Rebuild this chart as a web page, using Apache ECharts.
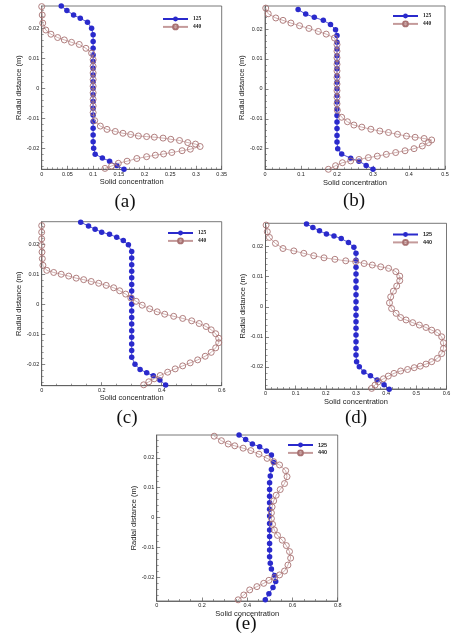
<!DOCTYPE html>
<html><head><meta charset="utf-8">
<script src="https://cdn.jsdelivr.net/npm/echarts@6/dist/echarts.min.js"></script>
<style>html,body{margin:0;padding:0;background:#fff}#c{width:458px;height:640px}</style>
</head><body><div id="c"></div>
<script>
// ---------- data ----------
const seriesNames = ['125', '440'];
const panelLabels = ['(a)', '(b)', '(c)', '(d)', '(e)'];
const xTicksA = [0, 0.05, 0.1, 0.15, 0.2, 0.25, 0.3, 0.35];
const xTicksB = [0, 0.1, 0.2, 0.3, 0.4, 0.5];
const xTicksC = [0, 0.2, 0.4, 0.6];
const xTicksD = [0, 0.1, 0.2, 0.3, 0.4, 0.5, 0.6];
const xTicksE = [0, 0.2, 0.4, 0.6, 0.8];
const yTicks = [-0.02, -0.01, 0, 0.01, 0.02];

const a125 = [[0.038,0.0274],[0.049,0.0259],[0.062,0.0244],[0.075,0.0233],[0.089,0.0220],[0.097,0.0200],[0.100,0.0178],[0.100,0.0156],[0.100,0.0133],[0.100,0.0111],[0.100,0.0089],[0.100,0.0067],[0.100,0.0044],[0.100,0.0022],[0.100,0.0000],[0.100,-0.0022],[0.100,-0.0044],[0.100,-0.0067],[0.100,-0.0089],[0.100,-0.0111],[0.100,-0.0133],[0.100,-0.0156],[0.100,-0.0178],[0.101,-0.0200],[0.104,-0.0220],[0.118,-0.0232],[0.132,-0.0243],[0.146,-0.0257],[0.160,-0.0270]];
const a440 = [[0.000,0.0272],[0.001,0.0244],[0.002,0.0217],[0.008,0.0194],[0.018,0.0180],[0.031,0.0169],[0.044,0.0161],[0.058,0.0153],[0.073,0.0146],[0.086,0.0133],[0.097,0.0117],[0.100,0.0095],[0.100,0.0073],[0.100,0.0051],[0.100,0.0029],[0.100,0.0007],[0.100,-0.0015],[0.100,-0.0037],[0.100,-0.0059],[0.100,-0.0081],[0.103,-0.0108],[0.114,-0.0126],[0.127,-0.0137],[0.143,-0.0144],[0.158,-0.0150],[0.173,-0.0154],[0.188,-0.0159],[0.204,-0.0161],[0.219,-0.0163],[0.236,-0.0166],[0.251,-0.0170],[0.268,-0.0174],[0.284,-0.0181],[0.299,-0.0186],[0.308,-0.0194],[0.289,-0.0203],[0.273,-0.0208],[0.253,-0.0214],[0.237,-0.0219],[0.221,-0.0223],[0.204,-0.0228],[0.185,-0.0234],[0.166,-0.0243],[0.149,-0.0250],[0.136,-0.0259],[0.123,-0.0267]];

const b125 = [[0.092,0.0265],[0.113,0.0250],[0.137,0.0239],[0.162,0.0229],[0.182,0.0215],[0.196,0.0198],[0.200,0.0178],[0.200,0.0156],[0.200,0.0133],[0.200,0.0111],[0.200,0.0089],[0.200,0.0067],[0.200,0.0044],[0.200,0.0022],[0.200,0.0000],[0.200,-0.0022],[0.200,-0.0044],[0.200,-0.0067],[0.200,-0.0089],[0.200,-0.0111],[0.200,-0.0133],[0.200,-0.0156],[0.200,-0.0178],[0.202,-0.0200],[0.213,-0.0218],[0.238,-0.0232],[0.261,-0.0242],[0.281,-0.0256],[0.300,-0.0269]];
const b440 = [[0.002,0.0270],[0.009,0.0251],[0.030,0.0237],[0.050,0.0229],[0.072,0.0220],[0.096,0.0211],[0.122,0.0202],[0.148,0.0192],[0.170,0.0183],[0.193,0.0170],[0.200,0.0148],[0.200,0.0126],[0.200,0.0104],[0.200,0.0082],[0.200,0.0060],[0.200,0.0038],[0.200,0.0016],[0.200,-0.0006],[0.200,-0.0028],[0.200,-0.0050],[0.201,-0.0072],[0.213,-0.0095],[0.229,-0.0110],[0.247,-0.0121],[0.269,-0.0128],[0.294,-0.0135],[0.319,-0.0141],[0.343,-0.0146],[0.368,-0.0152],[0.393,-0.0158],[0.417,-0.0162],[0.442,-0.0166],[0.463,-0.0171],[0.454,-0.0180],[0.437,-0.0191],[0.414,-0.0200],[0.389,-0.0207],[0.363,-0.0213],[0.337,-0.0219],[0.312,-0.0225],[0.287,-0.0230],[0.261,-0.0236],[0.238,-0.0241],[0.215,-0.0247],[0.196,-0.0257],[0.176,-0.0269]];

const c125 = [[0.130,0.0273],[0.156,0.0261],[0.178,0.0250],[0.200,0.0240],[0.226,0.0233],[0.250,0.0223],[0.272,0.0212],[0.289,0.0198],[0.300,0.0176],[0.300,0.0154],[0.300,0.0132],[0.300,0.0110],[0.300,0.0088],[0.300,0.0066],[0.300,0.0044],[0.300,0.0022],[0.300,0.0000],[0.300,-0.0022],[0.300,-0.0044],[0.300,-0.0066],[0.300,-0.0088],[0.300,-0.0110],[0.300,-0.0132],[0.300,-0.0154],[0.300,-0.0176],[0.311,-0.0200],[0.328,-0.0217],[0.350,-0.0228],[0.372,-0.0238],[0.394,-0.0252],[0.413,-0.0269]];
const c440 = [[0.000,0.0262],[0.000,0.0240],[0.000,0.0218],[0.000,0.0196],[0.001,0.0174],[0.002,0.0152],[0.004,0.0130],[0.017,0.0113],[0.040,0.0106],[0.065,0.0100],[0.090,0.0094],[0.115,0.0087],[0.140,0.0082],[0.165,0.0076],[0.190,0.0070],[0.215,0.0063],[0.240,0.0055],[0.260,0.0045],[0.280,0.0034],[0.297,0.0021],[0.315,0.0010],[0.335,-0.0003],[0.360,-0.0015],[0.385,-0.0025],[0.410,-0.0033],[0.440,-0.0040],[0.470,-0.0047],[0.500,-0.0055],[0.525,-0.0064],[0.548,-0.0074],[0.565,-0.0085],[0.580,-0.0098],[0.590,-0.0113],[0.590,-0.0128],[0.580,-0.0145],[0.565,-0.0160],[0.545,-0.0173],[0.520,-0.0185],[0.495,-0.0195],[0.470,-0.0205],[0.445,-0.0215],[0.420,-0.0226],[0.395,-0.0237],[0.375,-0.0248],[0.357,-0.0258],[0.340,-0.0268]];

const d125 = [[0.136,0.0276],[0.157,0.0264],[0.179,0.0253],[0.202,0.0242],[0.227,0.0236],[0.251,0.0227],[0.275,0.0214],[0.293,0.0198],[0.300,0.0178],[0.300,0.0155],[0.300,0.0132],[0.300,0.0109],[0.300,0.0086],[0.300,0.0063],[0.300,0.0040],[0.300,0.0017],[0.300,-0.0006],[0.300,-0.0028],[0.300,-0.0050],[0.300,-0.0072],[0.300,-0.0094],[0.300,-0.0117],[0.300,-0.0139],[0.300,-0.0161],[0.302,-0.0183],[0.311,-0.0200],[0.326,-0.0217],[0.348,-0.0230],[0.370,-0.0244],[0.393,-0.0260],[0.410,-0.0275]];
const d440 = [[0.002,0.0272],[0.006,0.0250],[0.013,0.0231],[0.033,0.0211],[0.058,0.0194],[0.094,0.0186],[0.127,0.0178],[0.160,0.0170],[0.194,0.0163],[0.230,0.0158],[0.266,0.0153],[0.299,0.0150],[0.327,0.0144],[0.354,0.0139],[0.382,0.0133],[0.408,0.0128],[0.432,0.0117],[0.445,0.0102],[0.445,0.0087],[0.435,0.0069],[0.424,0.0052],[0.415,0.0033],[0.411,0.0013],[0.418,-0.0006],[0.433,-0.0022],[0.448,-0.0036],[0.466,-0.0044],[0.488,-0.0053],[0.510,-0.0061],[0.532,-0.0069],[0.551,-0.0078],[0.570,-0.0086],[0.584,-0.0100],[0.590,-0.0120],[0.590,-0.0139],[0.584,-0.0156],[0.570,-0.0172],[0.551,-0.0183],[0.532,-0.0191],[0.513,-0.0198],[0.493,-0.0203],[0.471,-0.0209],[0.448,-0.0214],[0.426,-0.0222],[0.407,-0.0231],[0.391,-0.0240],[0.374,-0.0250],[0.363,-0.0261],[0.352,-0.0272]];

const e125 = [[0.364,0.0276],[0.393,0.0261],[0.423,0.0246],[0.455,0.0237],[0.485,0.0223],[0.507,0.0209],[0.517,0.0184],[0.507,0.0161],[0.502,0.0139],[0.499,0.0117],[0.499,0.0094],[0.499,0.0072],[0.499,0.0050],[0.499,0.0028],[0.499,0.0006],[0.499,-0.0019],[0.499,-0.0041],[0.499,-0.0063],[0.499,-0.0086],[0.499,-0.0108],[0.499,-0.0130],[0.502,-0.0152],[0.507,-0.0171],[0.521,-0.0193],[0.526,-0.0213],[0.514,-0.0233],[0.496,-0.0254],[0.480,-0.0274]];
const e440 = [[0.254,0.0272],[0.286,0.0257],[0.316,0.0246],[0.345,0.0240],[0.382,0.0232],[0.416,0.0224],[0.452,0.0212],[0.488,0.0198],[0.517,0.0187],[0.543,0.0176],[0.570,0.0157],[0.576,0.0137],[0.565,0.0114],[0.546,0.0094],[0.528,0.0075],[0.517,0.0056],[0.510,0.0036],[0.507,0.0016],[0.507,-0.0003],[0.512,-0.0022],[0.520,-0.0041],[0.534,-0.0059],[0.555,-0.0075],[0.573,-0.0093],[0.587,-0.0113],[0.592,-0.0135],[0.580,-0.0158],[0.565,-0.0178],[0.543,-0.0191],[0.521,-0.0200],[0.496,-0.0209],[0.473,-0.0219],[0.443,-0.0230],[0.411,-0.0241],[0.385,-0.0258],[0.360,-0.0274]];

// ---------- layout / style ----------
const panels = [
  {xt: xTicksA, s1: a125, s2: a440, grid: {left: 41.7, top: 6, width: 180, height: 163.3}, ymin: -0.0270, ymax: 0.0274, minor: 5, yGap: 18, xGap: 8.5, lg: {left: 162, top: 16}, lab: [125, 202], lgFont: 'Liberation Serif'},
  {xt: xTicksB, s1: b125, s2: b440, grid: {left: 265, top: 6, width: 180, height: 163.3}, ymin: -0.0269, ymax: 0.0277, minor: 5, yGap: 17.5, xGap: 9.5, lg: {left: 392, top: 13}, lab: [354, 201], lgFont: 'Liberation Serif'},
  {xt: xTicksC, s1: c125, s2: c440, grid: {left: 41.7, top: 221.7, width: 180, height: 164}, ymin: -0.0271, ymax: 0.0275, minor: 4, yGap: 18, xGap: 8.5, lg: {left: 167, top: 230}, lab: [127, 418], lgFont: 'Liberation Serif'},
  {xt: xTicksD, s1: d125, s2: d440, grid: {left: 265.5, top: 223.3, width: 181, height: 165.7}, ymin: -0.0274, ymax: 0.0278, minor: 5, yGap: 17.7, xGap: 8, lg: {left: 392, top: 231.5}, lab: [356, 418], lgFont: 'Liberation Sans'},
  {xt: xTicksE, s1: e125, s2: e440, grid: {left: 156.7, top: 435, width: 181, height: 166}, ymin: -0.0278, ymax: 0.0276, minor: 4, yGap: 18, xGap: 7.5, lg: {left: 287, top: 442}, lab: [246, 624], lgFont: 'Liberation Sans'}
];

const AX = '#555', TXT = '#222', BLUE = '#2a2acc', RED_LINE = '#c49a9a', RED_EDGE = '#a87272';

function minorValues(min, max) {
  const out = [];
  for (let k = Math.ceil(min / 0.002); k <= Math.floor(max / 0.002); k++) {
    if (k % 5 !== 0) out.push(Math.round(k * 2) / 1000);
  }
  return out;
}

const option = {
  backgroundColor: '#fff',
  animation: false,
  grid: [], xAxis: [], yAxis: [], series: [], legend: [], graphic: []
};

panels.forEach((p, i) => {
  option.grid.push(Object.assign({show: true, borderColor: AX, borderWidth: 0.8, backgroundColor: 'transparent', containLabel: false, outerBoundsMode: 'none'}, p.grid));
  const xt = p.xt;
  option.xAxis.push({
    type: 'value', gridIndex: i, min: 0, max: xt[xt.length - 1], interval: xt[1] - xt[0], position: 'bottom',
    axisLine: {show: true, onZero: false, lineStyle: {color: AX, width: 0.8}},
    axisTick: {show: true, inside: true, length: 3.5, lineStyle: {color: AX, width: 0.7}},
    minorTick: {show: true, splitNumber: p.minor, length: 2, lineStyle: {color: AX, width: 0.6}},
    splitLine: {show: false}, minorSplitLine: {show: false},
    axisLabel: {fontSize: 5.5, color: TXT, margin: 1.8, fontFamily: 'Liberation Sans'},
    name: 'Solid concentration', nameLocation: 'middle', nameGap: p.xGap,
    nameTextStyle: {fontSize: 7.5, color: TXT, fontFamily: 'Liberation Sans'}
  });
  option.yAxis.push({
    type: 'value', gridIndex: i, min: p.ymin, max: p.ymax, position: 'left',
    axisLine: {show: true, onZero: false, lineStyle: {color: AX, width: 0.8}},
    axisTick: {show: true, inside: true, length: 3.5, customValues: yTicks, lineStyle: {color: AX, width: 0.7}},
    axisLabel: {customValues: yTicks, fontSize: 5.5, color: TXT, margin: 2.5, fontFamily: 'Liberation Sans'},
    splitLine: {show: false},
    name: 'Radial distance (m)', nameLocation: 'middle', nameGap: p.yGap,
    nameTextStyle: {fontSize: 7.5, color: TXT, fontFamily: 'Liberation Sans'}
  });
  option.yAxis.push({
    type: 'value', gridIndex: i, min: p.ymin, max: p.ymax, position: 'left', offset: 0,
    axisLine: {show: false, onZero: false}, axisLabel: {show: false}, splitLine: {show: false},
    axisTick: {show: true, inside: true, length: 2, customValues: minorValues(p.ymin, p.ymax), lineStyle: {color: AX, width: 0.6}}
  });
  option.series.push({
    type: 'line', name: seriesNames[0], xAxisIndex: i, yAxisIndex: 2 * i, data: p.s1,
    symbol: 'circle', symbolSize: 5.5, showAllSymbol: true, clip: false,
    lineStyle: {color: BLUE, width: 0.8}, itemStyle: {color: BLUE},
    emphasis: {disabled: true}, z: 2
  });
  option.series.push({
    type: 'line', name: seriesNames[1], xAxisIndex: i, yAxisIndex: 2 * i, data: p.s2,
    symbol: 'circle', symbolSize: 6, showAllSymbol: true, clip: false,
    lineStyle: {color: RED_LINE, width: 0.8},
    itemStyle: {color: 'rgba(255,255,255,0)', borderColor: RED_EDGE, borderWidth: 0.9},
    emphasis: {disabled: true}, z: 3
  });
  option.legend.push({
    data: seriesNames, orient: 'vertical', left: p.lg.left, top: p.lg.top, padding: 0,
    itemWidth: 25, itemHeight: 6, itemGap: 1.5, selectedMode: false,
    textStyle: {fontSize: 5.5, fontWeight: 'bold', fontFamily: p.lgFont, color: TXT, lineHeight: 6}
  });
  option.graphic.push({
    type: 'text', x: p.lab[0], y: p.lab[1],
    style: {text: panelLabels[i], fontSize: 19, fontFamily: 'Liberation Serif', fill: '#111', align: 'center', verticalAlign: 'middle'}
  });
});

const chart = echarts.init(document.getElementById('c'), null, {renderer: 'canvas'});
chart.setOption(option);
</script>
</body></html>
